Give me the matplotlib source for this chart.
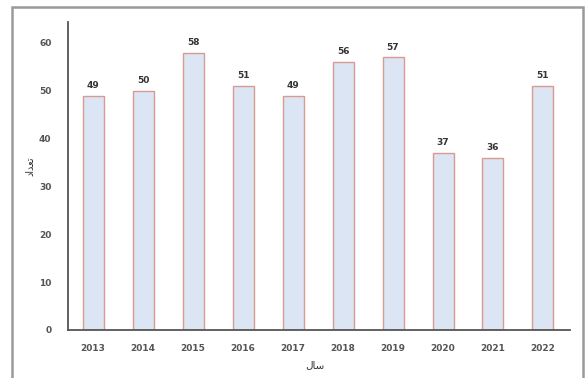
import matplotlib.pyplot as plt
from matplotlib.patches import Rectangle

# yearly counts
years = ['2013', '2014', '2015', '2016', '2017', '2018', '2019', '2020', '2021', '2022']
counts = [49, 50, 58, 51, 49, 56, 57, 37, 36, 51]

# Persian labels written in presentation forms (matplotlib has no shaping)
x_title = '\uFEDD\uFE8E\uFEB3'                      # سال
y_title = '\uFEA9\uFE8D\uFEAA\uFECC\uFE97'          # تعداد

fig = plt.figure(figsize=(5.87, 3.78), dpi=100)
ax = fig.add_axes([0.116, 0.127, 0.855, 0.815])

pos = range(len(years))
bars = ax.bar(pos, counts, width=0.42, color='#dbe5f4', edgecolor='#d99a92', linewidth=1.0)

for b, v in zip(bars, counts):
    ax.text(b.get_x() + b.get_width() / 2, v + 1.2, str(v), ha='center', va='bottom',
            fontsize=6.5, fontweight='bold', color='#333333')

ax.set_xticks(list(pos))
ax.set_xticklabels(years)
ax.set_xlim(-0.5, 9.54)
ax.set_ylim(0, 64.4)
ax.set_yticks(range(0, 61, 10))
ax.tick_params(length=0, labelsize=6.5, colors='#555555')
ax.tick_params(axis='x', pad=10)
ax.tick_params(axis='y', pad=12)
for lab in ax.get_xticklabels() + ax.get_yticklabels():
    lab.set_fontweight('bold')

for s in ['top', 'right']:
    ax.spines[s].set_visible(False)
ax.spines['left'].set_color('#555555')
ax.spines['bottom'].set_color('#555555')
ax.spines['left'].set_linewidth(1.3)
ax.spines['bottom'].set_linewidth(1.3)

fig.text(0.537, 0.035, x_title, ha='center', va='center', fontsize=7.5, color='#333333')
fig.text(0.052, 0.56, y_title, ha='center', va='center', rotation=90, fontsize=7, color='#333333')

# gray frame around the chart
frame = Rectangle((0.0204, -0.05), 0.9726, 1.031, transform=fig.transFigure,
                  fill=False, edgecolor='#9a9a9a', linewidth=1.8, clip_on=False)
fig.patches.append(frame)

fig.savefig('out.png', dpi=100)
